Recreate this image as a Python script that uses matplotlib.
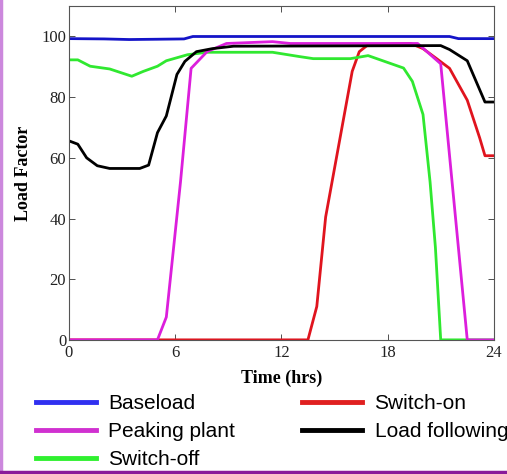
import matplotlib.pyplot as plt
from matplotlib.lines import Line2D

# Hourly load factor curves
baseload_t = [0, 2, 3.4, 5, 6.5, 7, 21.5, 22, 24]
baseload_y = [99.3, 99.2, 99.0, 99.1, 99.2, 100, 100, 99.3, 99.3]

peaking_t = [0, 5.0, 5.5, 6.3, 6.9, 7.8, 8.9, 11.5, 12.5, 19.7, 21.0, 22.5, 24]
peaking_y = [0, 0, 7.5, 52, 89.5, 95, 97.7, 98.3, 97.7, 97.7, 91, 0, 0]

switch_off_t = [0, 0.5, 1.2, 2.3, 3.55, 4.2, 5.0, 5.5, 6.7, 7.8, 11.5, 13.0, 13.8,
                15.9, 16.9, 18.9, 19.4, 20.0, 20.4, 20.7, 21.0, 24]
switch_off_y = [92.3, 92.3, 90.2, 89.3, 86.9, 88.5, 90.2, 92, 94, 94.8, 94.8, 93.4, 92.7,
                92.7, 93.7, 89.6, 85.2, 74.3, 52, 30.5, 0, 0]

switch_on_t = [0, 13.5, 14.0, 14.5, 16.0, 16.4, 16.9, 19.3, 20.0, 20.7, 21.5, 22.5,
               23.2, 23.5, 24]
switch_on_y = [0, 0, 11, 40.5, 88.5, 95, 97.3, 97.7, 96, 93, 89.5, 79,
               66.6, 60.7, 60.7]

follow_t = [0, 0.5, 1.0, 1.6, 2.3, 4.0, 4.5, 5.0, 5.5, 6.1, 6.55, 7.2, 8.1, 9.3,
            21.0, 21.5, 22.5, 23.5, 24]
follow_y = [65.6, 64.5, 60, 57.4, 56.5, 56.5, 57.6, 68.3, 73.8, 87.5, 91.8, 95, 96, 96.8,
            97, 95.7, 92, 78.4, 78.4]

x_ticks = [0, 6, 12, 18, 24]
y_ticks = [0, 20, 40, 60, 80, 100]

fig = plt.figure(figsize=(5.07, 4.74), dpi=100)
ax = fig.add_axes([0.136, 0.283, 0.838, 0.704])

lw = 2.0
ax.plot(baseload_t, baseload_y, color="#1414c8", lw=lw)
ax.plot(switch_on_t, switch_on_y, color="#e0141e", lw=lw)
ax.plot(switch_off_t, switch_off_y, color="#30e830", lw=lw)
ax.plot(peaking_t, peaking_y, color="#dc1edc", lw=lw)
ax.plot(follow_t, follow_y, color="black", lw=lw)

ax.set_xlim(0, 24)
ax.set_ylim(0, 110)
ax.set_xticks(x_ticks)
ax.set_yticks(y_ticks)
ax.tick_params(direction="in", top=True, right=True, length=4, width=0.6,
               labelsize=12, colors="#333333")
ax.tick_params(axis="x", pad=4)
ax.tick_params(axis="y", pad=2)
for lab in ax.get_xticklabels() + ax.get_yticklabels():
    lab.set_fontfamily("Liberation Serif")
    lab.set_color("#222222")
for sp in ax.spines.values():
    sp.set_color("#555555")
    sp.set_linewidth(0.8)

ax.set_xlabel("Time (hrs)", fontfamily="Liberation Serif", fontweight="bold",
              fontsize=13, labelpad=6)
ax.set_ylabel("Load Factor", fontfamily="Liberation Serif", fontweight="bold",
              fontsize=13, labelpad=7)

# legend below the axes, two columns
handles = [
    Line2D([], [], color="#3030f0", lw=3.5),
    Line2D([], [], color="#d030d0", lw=3.5),
    Line2D([], [], color="#30f030", lw=3.5),
    Line2D([], [], color="#e02020", lw=3.5),
    Line2D([], [], color="black", lw=3.5),
]
labels = ["Baseload", "Peaking plant", "Switch-off", "Switch-on", "Load following"]
fig.legend(handles, labels, ncol=2, loc="upper left", bbox_to_anchor=(0.071, 0.168),
           frameon=False, prop={"family": "Liberation Sans", "size": 15},
           handlelength=2.9, handletextpad=0.58, columnspacing=3.2,
           labelspacing=0.43, borderaxespad=0, borderpad=0)

# slide border
fig.add_artist(Line2D([0.002, 0.002], [0.0, 1.0], transform=fig.transFigure,
                      color="#cc88dd", lw=2.5))
fig.add_artist(Line2D([0.0, 1.0], [0.005, 0.005], transform=fig.transFigure,
                      color="#8a1a9a", lw=2.5))

fig.savefig("out.png", dpi=100)
